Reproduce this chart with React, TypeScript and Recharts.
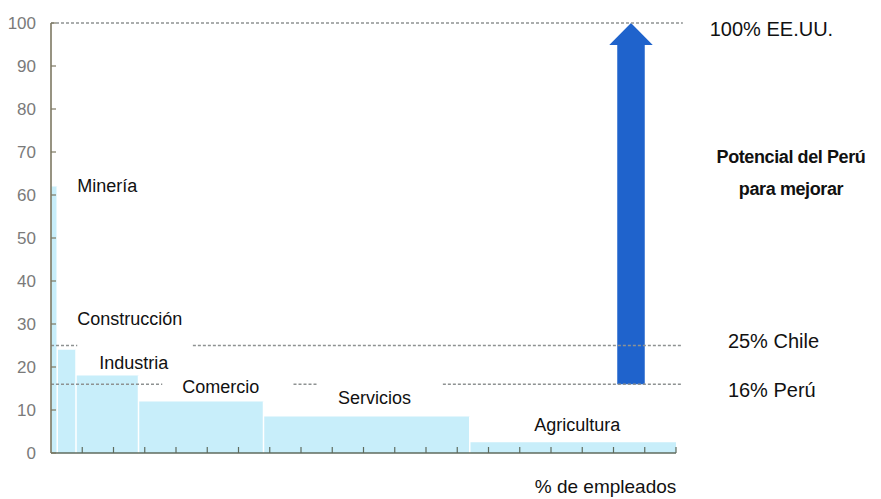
import { Area, ComposedChart, ReferenceArea, ReferenceDot, ReferenceLine, XAxis, YAxis } from "recharts";

const categories = ["Minería", "Construcción", "Industria", "Comercio", "Servicios", "Agricultura"];
const employeeShare = [1, 3, 10, 20, 33, 33]; // % de empleados
const productivity = [62, 24, 18, 12, 8.5, 2.5]; // % de la productividad de EE.UU.

const benchmarkLevels = [100, 25, 16];
const benchmarkLabels = ["100% EE.UU.", "25% Chile", "16% Perú"];

const yTicks = [0, 10, 20, 30, 40, 50, 60, 70, 80, 90, 100];
const xTicks = [5, 10, 15, 20, 25, 30, 35, 40, 45, 50, 55, 60, 65, 70, 75, 80, 85, 90, 95, 100];

// where the dotted benchmark lines run (gaps sit behind labels)
const lineRuns = [
  [[0, 101.1]],
  [[0, 4.2], [22.7, 101.1]],
  [[0, 17.8], [38.8, 42.7], [62.7, 101.1]],
];

// label anchors in chart units
const categoryLabelPos = [
  [4.2, 60.7],
  [4.2, 29.8],
  [7.7, 19.6],
  [21, 14],
  [45.9, 11.4],
  [77.3, 5.1],
];
const benchmarkLabelPos = [
  [105.4, 97],
  [108.3, 24.4],
  [108.3, 13],
];

const FONT = '"Liberation Sans", Arial, sans-serif';
const BAR = "#c8eefa";
const ARROW = "#1f63cc";
const DOTTED = "#8e9292";

export default function App() {
  const starts: number[] = [];
  employeeShare.reduce((acc, w) => {
    starts.push(acc);
    return acc + w;
  }, 0);

  const stepData = categories.map((name, i) => ({ x: starts[i], value: productivity[i], name }));
  stepData.push({ x: 100, value: productivity[productivity.length - 1], name: "" });

  const textAt = (x: number, y: number, txt: string, style: any, key: string) => (
    <ReferenceDot
      key={key}
      x={x}
      y={y}
      r={1}
      ifOverflow="visible"
      shape={(p: any) => (
        <text x={p.cx} y={p.cy} fontFamily={FONT} {...style}>
          {txt}
        </text>
      )}
    />
  );

  return (
    <div style={{ position: "absolute", left: 0, top: 0, width: 881, height: 499, background: "#fff" }}>
      <ComposedChart
        width={881}
        height={499}
        data={stepData}
        margin={{ top: 23, right: 205, left: 0, bottom: 26 }}
      >
        <XAxis
          dataKey="x"
          type="number"
          domain={[0, 100]}
          ticks={xTicks}
          tickSize={-6}
          tickFormatter={() => ""}
          height={20}
          axisLine={{ stroke: "#5f6b5e", strokeWidth: 1.6 }}
          tickLine={{ stroke: "#5f6b5e", strokeWidth: 1.2 }}
        />
        <YAxis
          type="number"
          domain={[0, 100]}
          ticks={yTicks}
          width={51}
          tickSize={-5}
          tickMargin={20}
          axisLine={{ stroke: "#7d7862", strokeWidth: 1.6 }}
          tickLine={{ stroke: "#7d7862", strokeWidth: 1.2 }}
          tick={{ fill: "#7a7a7a", fontSize: 17, fontFamily: FONT }}
        />
        <Area
          type="stepAfter"
          dataKey="value"
          stroke="none"
          fill={BAR}
          fillOpacity={1}
          isAnimationActive={false}
        />
        {starts.slice(1).map((b, i) => (
          <ReferenceLine
            key={`sep-${i}`}
            segment={[
              { x: b, y: 0 },
              { x: b, y: productivity[i] },
            ]}
            stroke="#fff"
            strokeWidth={1.5}
          />
        ))}
        {benchmarkLevels.map((lvl, i) =>
          lineRuns[i].map(([a, b], j) => (
            <ReferenceLine
              key={`bm-${i}-${j}`}
              segment={[
                { x: a, y: lvl },
                { x: b, y: lvl },
              ]}
              ifOverflow="visible"
              stroke={DOTTED}
              strokeWidth={1.6}
              strokeDasharray="3 2"
            />
          ))
        )}
        <ReferenceArea
          x1={90.6}
          x2={95}
          y1={benchmarkLevels[2]}
          y2={benchmarkLevels[0]}
          ifOverflow="visible"
          shape={(p: any) => {
            const { x, y, width, height } = p;
            const head = 22;
            const flare = 8;
            const pts = [
              [x, y + height],
              [x, y + head],
              [x - flare, y + head],
              [x + width / 2, y],
              [x + width + flare, y + head],
              [x + width, y + head],
              [x + width, y + height],
            ]
              .map((q) => q.join(","))
              .join(" ");
            return <polygon points={pts} fill={ARROW} />;
          }}
        />
        {categories.map((c, i) =>
          textAt(categoryLabelPos[i][0], categoryLabelPos[i][1], c, { fontSize: 18, fill: "#111" }, `cat-${i}`)
        )}
        {benchmarkLabels.map((t, i) =>
          textAt(benchmarkLabelPos[i][0], benchmarkLabelPos[i][1], t, { fontSize: 20, fill: "#111" }, `bl-${i}`)
        )}
        {textAt(118.4, 67.4, "Potencial del Perú", { fontSize: 18, fontWeight: "bold", textAnchor: "middle", fill: "#111", letterSpacing: -0.4 }, "pot1")}
        {textAt(118.4, 60, "para mejorar", { fontSize: 18, fontWeight: "bold", textAnchor: "middle", fill: "#111", letterSpacing: -0.4 }, "pot2")}
        {textAt(77.4, -9.3, "% de empleados", { fontSize: 19, fill: "#111" }, "xlab")}
      </ComposedChart>
    </div>
  );
}
